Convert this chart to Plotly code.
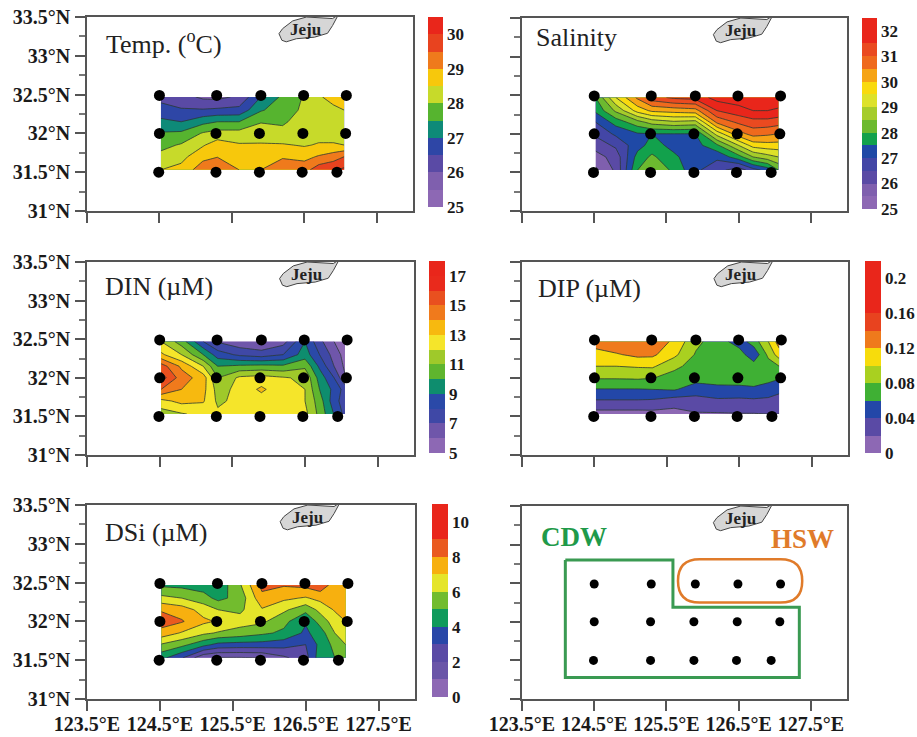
import numpy as np
import plotly.graph_objects as go

W, H = 917, 737
SERIF = "Liberation Serif"

lons = [124.52, 124.8, 125.1, 125.3, 125.6, 125.9, 126.2, 126.5, 126.7, 126.9, 127.05]
lats = [32.47, 32.3, 32.15, 32.0, 31.85, 31.7, 31.53]

# each inner list: one longitude column, north to south
temp = [
 [26.3, 26.75, 27.1, 27.55, 27.85, 28.15, 28.5],
 [26.2, 26.55, 27.0, 27.6, 28.05, 28.35, 28.65],
 [25.9, 26.55, 27.35, 28.05, 28.45, 28.85, 29.3],
 [25.85, 26.6, 27.5, 28.2, 28.75, 28.98, 29.45],
 [26.1, 26.65, 27.5, 28.2, 28.55, 28.8, 29.0],
 [27.0, 27.45, 27.97, 28.25, 28.55, 28.8, 29.0],
 [27.6, 27.75, 27.95, 28.1, 28.55, 28.95, 29.3],
 [28.05, 28.1, 28.15, 28.2, 28.45, 28.85, 29.3],
 [28.45, 28.3, 28.3, 28.3, 28.55, 29.05, 29.8],
 [28.65, 28.4, 28.35, 28.3, 28.55, 29.25, 29.95],
 [28.8, 28.5, 28.35, 28.3, 28.5, 29.5, 30.1],
]
salinity = [
 [28.0, 27.6, 27.0, 26.6, 26.2, 25.8, 25.4],
 [29.5, 28.6, 27.7, 27.1, 26.6, 26.2, 26.1],
 [30.6, 29.7, 28.3, 27.45, 27.3, 27.7, 28.0],
 [31.3, 30.1, 28.7, 27.5, 27.7, 28.1, 28.4],
 [31.6, 30.2, 28.9, 27.5, 27.35, 27.6, 27.9],
 [31.7, 30.3, 28.8, 27.5, 27.3, 27.2, 27.1],
 [32.2, 31.5, 30.6, 29.2, 27.9, 27.1, 26.7],
 [32.3, 31.8, 31.1, 30.3, 29.0, 27.8, 26.2],
 [32.4, 32.0, 31.3, 30.7, 29.7, 28.5, 26.8],
 [32.4, 32.0, 31.3, 30.6, 29.8, 28.8, 27.2],
 [32.4, 31.9, 31.2, 30.5, 29.8, 29.0, 28.0],
]
din = [
 [12.0, 13.2, 15.5, 16.5, 15.0, 12.7, 11.5],
 [10.5, 12.0, 13.8, 14.5, 14.0, 13.3, 11.9],
 [8.0, 10.0, 12.0, 13.5, 13.3, 13.1, 12.3],
 [6.9, 8.5, 10.0, 11.0, 11.6, 11.8, 12.2],
 [6.3, 7.8, 10.2, 12.2, 12.3, 12.3, 12.4],
 [6.0, 7.5, 10.3, 12.4, 13.2, 12.5, 12.5],
 [6.6, 8.0, 10.2, 12.1, 12.3, 12.3, 12.4],
 [9.0, 9.5, 10.8, 11.8, 12.0, 12.0, 12.3],
 [7.3, 8.0, 8.8, 9.6, 10.0, 10.5, 10.7],
 [6.0, 6.6, 7.0, 8.0, 8.7, 8.4, 8.95],
 [5.5, 5.6, 5.8, 6.1, 7.6, 7.5, 7.7],
]
dip = [
 [.13, .112, .10, .082, .059, .038, .012],
 [.135, .118, .10, .082, .059, .038, .012],
 [.137, .125, .102, .083, .059, .038, .012],
 [.137, .124, .103, .081, .06, .037, .013],
 [.115, .105, .085, .072, .062, .03, .012],
 [.085, .078, .072, .068, .05, .032, .018],
 [.07, .07, .07, .068, .055, .036, .018],
 [.05, .07, .07, .069, .055, .035, .019],
 [.07, .045, .07, .069, .057, .036, .019],
 [.10, .085, .07, .066, .052, .035, .02],
 [.13, .11, .08, .062, .045, .032, .02],
]
dsi = [
 [4.8, 6.3, 7.9, 8.5, 7.6, 5.9, 4.3],
 [4.7, 6.0, 7.5, 8.1, 6.9, 5.3, 3.1],
 [4.5, 5.4, 6.6, 7.2, 6.2, 4.3, 1.2],
 [4.3, 4.7, 6.0, 6.9, 5.9, 3.7, 0.9],
 [5.9, 5.4, 5.8, 6.4, 5.6, 3.6, 0.9],
 [8.3, 7.7, 6.9, 6.2, 5.2, 3.6, 1.0],
 [8.1, 7.2, 6.2, 5.3, 4.8, 3.4, 1.8],
 [8.3, 6.9, 5.3, 4.1, 3.8, 3.0, 2.6],
 [8.7, 7.3, 6.3, 5.4, 4.5, 4.3, 4.6],
 [7.5, 7.4, 7.1, 6.5, 6.0, 5.3, 5.0],
 [7.4, 7.4, 7.3, 7.0, 6.4, 6.0, 5.7],
]

temp_colors = ["#8d68b4", "#7f5fae", "#5a4aa5", "#2e46a6", "#0e8a78", "#56b42f",
               "#c7da2a", "#f7c80c", "#ef7a1c", "#e8431f", "#e9261b"]
sal_colors = ["#8d68b4", "#7f5fae", "#5a4aa5", "#4346a6", "#1f49a6", "#12a14c", "#6cba2f",
              "#a5cc2a", "#dde22a", "#f9da0e", "#f6a415", "#ef6a1d", "#ea4a20", "#e9261b", "#e9261b"]
din_colors = ["#8d68b4", "#6f56aa", "#3f48a6", "#2a49a8", "#0e8d6e", "#5fb52e", "#9fc92a",
              "#f5e52a", "#f7b90f", "#f07a1c", "#e9501f", "#e92a1c", "#e9261b"]
dip_colors = ["#8d68b4", "#5a4aa5", "#2347a8", "#3fb034", "#a9d020", "#f7dc0c", "#ef7a1c",
              "#e8431f", "#e9261b", "#e9261b", "#e9261b"]
dsi_colors = ["#8d68b4", "#6a55a8", "#5a4aa5", "#2847a8", "#0f9a5c", "#72bc2e", "#e5e52a",
              "#f7b00f", "#ea5a1f", "#e9261b", "#e9261b"]

temp_ticks = [25, 26, 27, 28, 29, 30]
sal_ticks = [25, 26, 27, 28, 29, 30, 31, 32]
din_ticks = [5, 7, 9, 11, 13, 15, 17]
dip_ticks = [0, 0.04, 0.08, 0.12, 0.16, 0.2]
dsi_ticks = [0, 2, 4, 6, 8, 10]

station_lon = [124.5, 125.29, 125.9, 126.49, 127.08,
               124.5, 125.28, 125.88, 126.48, 127.07,
               124.49, 125.28, 125.88, 126.47, 126.95]
station_lat = [32.49] * 5 + [32.0] * 5 + [31.5] * 5

jeju_lon = [126.15, 126.19, 126.25, 126.39, 126.64, 126.82, 126.89, 126.94, 126.97,
            126.89, 126.71, 126.53, 126.34, 126.2, 126.15]
jeju_lat = [33.285, 33.2, 33.18, 33.22, 33.24, 33.29, 33.39, 33.48, 33.53,
            33.48, 33.49, 33.5, 33.45, 33.35, 33.285]

cdw_lon = [124.10, 125.59, 125.59, 127.34, 127.34, 124.10, 124.10]
cdw_lat = [32.80, 32.80, 32.19, 32.19, 31.28, 31.28, 32.80]
hsw_lon = [125.66, 127.38]
hsw_lat = [32.25, 32.81]

x_ticks = [123.5, 124.5, 125.5, 126.5, 127.5]
x_labels = ["123.5°E", "124.5°E", "125.5°E", "126.5°E", "127.5°E"]
y_ticks = [31, 31.5, 32, 32.5, 33, 33.5]
y_labels = ["31°N", "31.5°N", "32°N", "32.5°N", "33°N", "33.5°N"]
y_minor = [31.25, 31.75, 32.25, 32.75, 33.25]

panels = [
    dict(box=(87, 17, 413, 211), z=temp, colors=temp_colors, start=25, size=.5, ticks=temp_ticks,
         bar=(428, 17, 443, 207), title="Temp. (<sup>o</sup>C)", tx=104, ty=43),
    dict(box=(522, 18, 847, 211), z=salinity, colors=sal_colors, start=25, size=.5, ticks=sal_ticks,
         bar=(862, 18, 877, 209), title="Salinity", tx=534, ty=38),
    dict(box=(87, 262, 414, 455), z=din, colors=din_colors, start=5, size=1, ticks=din_ticks,
         bar=(429, 261, 445, 453), title="DIN (µM)", tx=103, ty=286),
    dict(box=(522, 262, 848, 455), z=dip, colors=dip_colors, start=0, size=.02, ticks=dip_ticks,
         bar=(865, 261, 881, 453), title="DIP (µM)", tx=536, ty=288),
    dict(box=(87, 505, 415, 699), z=dsi, colors=dsi_colors, start=0, size=1, ticks=dsi_ticks,
         bar=(432, 504, 448, 697), title="DSi (µM)", tx=103, ty=532),
    dict(box=(522, 506, 847, 699), z=None),
]

fig = go.Figure()
layout = dict(annotations=[], shapes=[])
lats_asc = lats[::-1]

for i, p in enumerate(panels, start=1):
    x0, y0, x1, y1 = p["box"]
    sfx = "" if i == 1 else str(i)
    xa, ya = "x" + sfx, "y" + sfx
    bottom = i >= 5
    left = i % 2 == 1
    axis_style = dict(showgrid=False, zeroline=False, showline=True, mirror=True,
                      linecolor="#555555", linewidth=1.5)
    layout["xaxis" + sfx] = dict(
        axis_style, domain=[x0 / W, x1 / W], range=[123.5, 128], anchor=ya,
        tickmode="array", tickvals=x_ticks, ticktext=x_labels, showticklabels=bottom,
        ticks="outside", ticklen=10, tickwidth=1.5, tickcolor="#555555",
        ticklabelstandoff=-4,
        tickfont=dict(family=SERIF, size=20, color="#1a1a1a", weight="bold"))
    layout["yaxis" + sfx] = dict(
        axis_style, domain=[1 - y1 / H, 1 - y0 / H], range=[31, 33.5], anchor=xa,
        tickmode="array", tickvals=y_ticks, ticktext=y_labels, showticklabels=left,
        ticks="outside", ticklen=10, tickwidth=1.5, tickcolor="#555555",
        ticklabelstandoff=1,
        minor=dict(tickmode="array", tickvals=y_minor, ticks="outside", ticklen=6,
                   tickwidth=1.5, tickcolor="#777777"),
        tickfont=dict(family=SERIF, size=20, color="#1a1a1a", weight="bold"))

    if p["z"] is not None:
        z = np.array(p["z"]).T[::-1].tolist()
        colors = p["colors"]
        n = len(colors)
        start, size = p["start"], p["size"]
        end = start + n * size
        scale = [[0, colors[0]]]
        for k, c in enumerate(colors):
            scale.append([(k + 0.6) / (n + 1), c])
            scale.append([(k + 1.4) / (n + 1), c])
        scale.append([1, colors[-1]])
        bx0, by0, bx1, by1 = p["bar"]
        fig.add_trace(go.Contour(
            x=lons, y=lats_asc, z=z, xaxis=xa, yaxis=ya,
            autocontour=False, zauto=False, zmin=start, zmax=end,
            contours=dict(start=start, end=end, size=size, coloring="fill", showlines=False),
            line=dict(width=0, smoothing=0), colorscale=scale, hoverinfo="skip",
            colorbar=dict(x=bx0 / W, xanchor="left", xref="paper", y=1 - by0 / H, yanchor="top", yref="paper",
                          len=by1 - by0, lenmode="pixels", thickness=bx1 - bx0, thicknessmode="pixels",
                          xpad=0, ypad=0, outlinewidth=0, borderwidth=0,
                          tickmode="array", tickvals=p["ticks"], ticktext=[f"{t:g}" for t in p["ticks"]],
                          ticks="outside", ticklen=1, tickcolor="rgba(0,0,0,0)",
                          tickfont=dict(family=SERIF, size=17, color="#1a1a1a", weight="bold"))))
        fig.add_trace(go.Contour(
            x=lons, y=lats_asc, z=z, xaxis=xa, yaxis=ya, showscale=False,
            autocontour=False,
            contours=dict(start=start + size, end=end, size=size, coloring="none", showlines=True),
            line=dict(color="#2b3a33", width=0.8, smoothing=0), hoverinfo="skip"))
        layout["annotations"].append(dict(
            xref="paper", yref="paper", x=p["tx"] / W, y=1 - p["ty"] / H, xanchor="left", yanchor="middle",
            text=p["title"], showarrow=False, font=dict(family=SERIF, size=26, color="#222222")))
    else:
        fig.add_trace(go.Scatter(x=cdw_lon, y=cdw_lat, xaxis=xa, yaxis=ya, mode="lines",
                                 line=dict(color="#3a9a52", width=3), hoverinfo="skip", showlegend=False))
        lo0, lo1 = hsw_lon
        la0, la1 = hsw_lat
        rx, ry = 0.3, (la1 - la0) / 2
        path = (f"M {lo0 + rx},{la0} L {lo1 - rx},{la0} Q {lo1},{la0} {lo1},{la0 + ry} "
                f"Q {lo1},{la1} {lo1 - rx},{la1} L {lo0 + rx},{la1} Q {lo0},{la1} {lo0},{la0 + ry} "
                f"Q {lo0},{la0} {lo0 + rx},{la0} Z")
        layout["shapes"].append(dict(type="path", path=path, xref=xa, yref=ya,
                                     line=dict(color="#e07b2a", width=2.5)))
        for text, tx, ty, col in [("CDW", 539, 537, "#1f9a4a"), ("HSW", 769, 539, "#e07b2a")]:
            layout["annotations"].append(dict(
                xref="paper", yref="paper", x=tx / W, y=1 - ty / H, xanchor="left", yanchor="middle",
                text=f"<b>{text}</b>", showarrow=False, font=dict(family=SERIF, size=27, color=col)))

    fig.add_trace(go.Scatter(x=jeju_lon, y=jeju_lat, xaxis=xa, yaxis=ya, mode="lines", fill="toself",
                             fillcolor="#d6d6d6", line=dict(color="#444444", width=1), cliponaxis=False,
                             hoverinfo="skip", showlegend=False))
    layout["annotations"].append(dict(
        xref=xa, yref=ya, x=126.52, y=33.34, text="<b>Jeju</b>", showarrow=False,
        font=dict(family=SERIF, size=17, color="#222222")))
    fig.add_trace(go.Scatter(x=station_lon, y=station_lat, xaxis=xa, yaxis=ya, mode="markers",
                             marker=dict(color="black", size=9 if i == 6 else 11), cliponaxis=False,
                             hoverinfo="skip", showlegend=False))

fig.update_layout(width=W, height=H, margin=dict(l=0, r=0, t=0, b=0, autoexpand=False),
                  paper_bgcolor="white", plot_bgcolor="white", showlegend=False, **layout)
fig.write_html("out.html", config={"displayModeBar": False},
               post_script="document.body.style.margin='0';")
